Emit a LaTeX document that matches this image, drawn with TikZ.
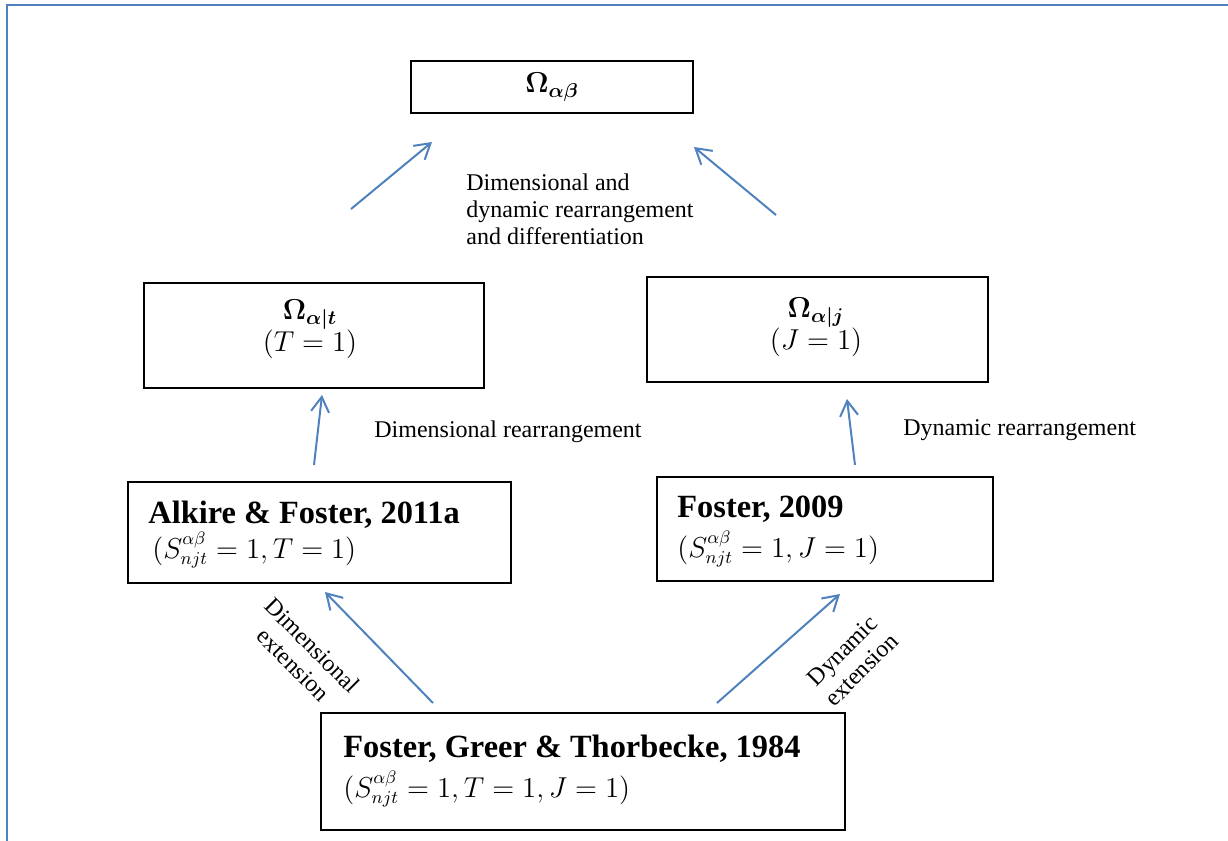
\documentclass[tikz,border=0pt]{standalone}
\usepackage{fontspec}
\setmainfont{Liberation Serif}
\usepackage{amsmath,bm}
\usetikzlibrary{arrows.meta}
\definecolor{arrblue}{RGB}{79,129,189}
\tikzset{
  box/.style={draw=black, line width=0.9pt, rectangle, inner sep=0pt},
  arr/.style={draw=arrblue, line width=1pt, -{Straight Barb[length=7.5pt,width=9pt,line width=1pt]}},
  lbl/.style={font=\fontsize{12}{13.5}\selectfont, inner sep=0pt},
  ttl/.style={font=\fontsize{16.2}{18}\selectfont\bfseries, inner sep=0pt, anchor=base west},
  mth/.style={font=\fontsize{13.3}{16}\selectfont, inner sep=0pt},
  pmth/.style={font=\fontsize{14.2}{16}\selectfont, inner sep=0pt},
  omg/.style={font=\fontsize{14.5}{17}\selectfont, inner sep=0pt},
}
\begin{document}
\begin{tikzpicture}[x=0.5pt,y=-0.5pt]
\useasboundingbox (0,0) rectangle (1228,841);
% frame
\draw[arrblue, line width=1.1pt] (1228,5) -- (7,5) -- (7,841);
% boxes
\node[box, minimum width=141pt, minimum height=26pt] (top) at (552,87) {};
\node[box, minimum width=170pt, minimum height=52.5pt] (omt) at (314,335.5) {};
\node[box, minimum width=170.5pt, minimum height=52.5pt] (omj) at (817.5,329.5) {};
\node[box, minimum width=191.5pt, minimum height=50.5pt] (alk) at (319.5,532.5) {};
\node[box, minimum width=168pt, minimum height=52pt] (fos) at (825,529) {};
\node[box, minimum width=262pt, minimum height=58.5pt] (fgt) at (583,771.5) {};
% box texts
\node[omg] (topt) at (552,87) {$\bm{\Omega_{\alpha\beta}}$};
\node[omg, anchor=base] (omtt) at (310,319) {$\bm{\Omega_{\alpha|t}}$};
\node[pmth, anchor=base] (omtm) at (310,351) {$(T=1)$};
\node[omg, anchor=base] (omjt) at (816,317) {$\bm{\Omega_{\alpha|j}}$};
\node[pmth, anchor=base] (omjm) at (816,349) {$(J=1)$};
\node[ttl] (alkt) at (148,523) {Alkire \& Foster, 2011a};
\node[mth, anchor=base west] (alkm) at (152,558) {$(S^{\alpha\beta}_{njt}=1,T=1)$};
\node[ttl] (fost) at (677,517) {Foster, 2009};
\node[mth, anchor=base west] (fosm) at (677,557) {$(S^{\alpha\beta}_{njt}=1,J=1)$};
\node[ttl] (fgtt) at (343,757) {Foster, Greer \& Thorbecke, 1984};
\node[mth, anchor=base west] (fgtm) at (343,797) {$(S^{\alpha\beta}_{njt}=1,T=1,J=1)$};
% labels
\node[lbl, anchor=north west, align=left] (ltop) at (466,173) {Dimensional and\\dynamic rearrangement\\and differentiation};
\node[lbl, anchor=base west] (ldimre) at (374,437) {Dimensional rearrangement};
\node[lbl, anchor=base west] (ldynre) at (903,435) {Dynamic rearrangement};
\node[lbl, align=center, rotate=-45] (ldimext) at (303,655) {Dimensional\\extension};
\node[lbl, align=center, rotate=45] (ldynext) at (852,660) {Dynamic\\extension};
% arrow end points
\coordinate (a1s) at (351,209); \coordinate (a1e) at (432,142);
\coordinate (a2s) at (776,215); \coordinate (a2e) at (694,147);
\coordinate (a3s) at (314,465); \coordinate (a3e) at (322,395);
\coordinate (a4s) at (855,465); \coordinate (a4e) at (847,399);
\coordinate (a5s) at (433,703); \coordinate (a5e) at (325,592);
\coordinate (a6s) at (717,703); \coordinate (a6e) at (840,594);
\draw[arr] (a1s) -- (a1e);
\draw[arr] (a2s) -- (a2e);
\draw[arr] (a3s) -- (a3e);
\draw[arr] (a4s) -- (a4e);
\draw[arr] (a5s) -- (a5e);
\draw[arr] (a6s) -- (a6e);
\end{tikzpicture}
\end{document}
